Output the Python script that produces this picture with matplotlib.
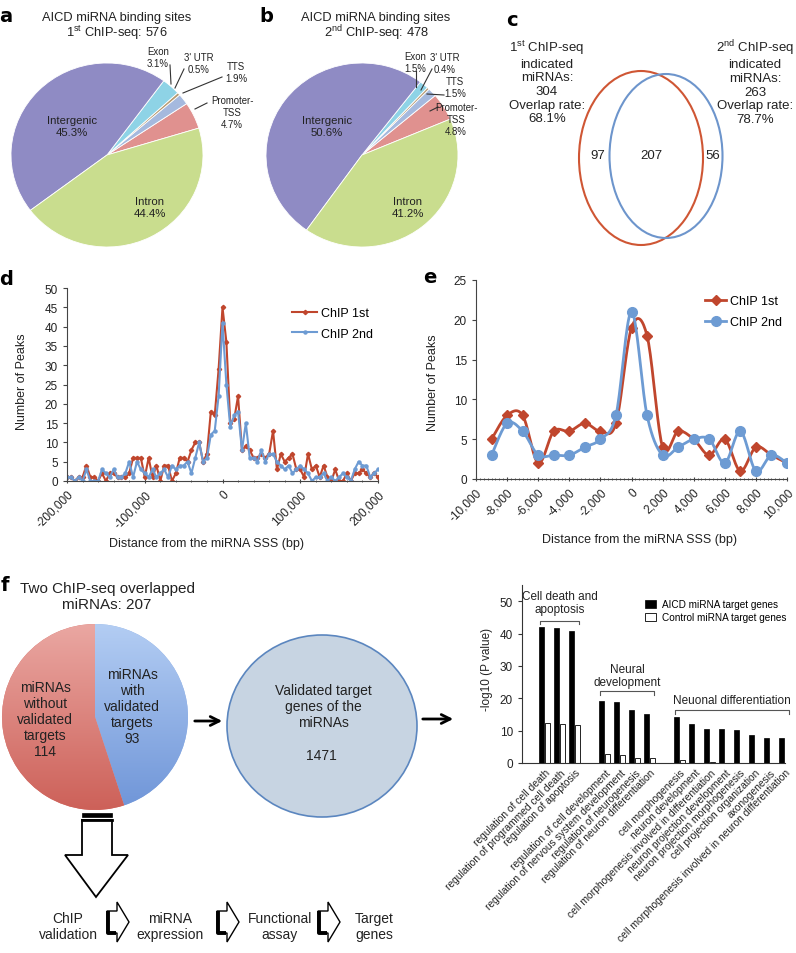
import numpy as np
import matplotlib
matplotlib.use('Agg')
import matplotlib.pyplot as plt
from matplotlib.patches import Ellipse, Polygon, Rectangle
from matplotlib.lines import Line2D
from matplotlib.ticker import MultipleLocator, FuncFormatter
from matplotlib.colors import LinearSegmentedColormap

plt.rcParams['font.family'] = ['Liberation Sans', 'DejaVu Sans']
plt.rcParams['mathtext.fontset'] = 'custom'
plt.rcParams['mathtext.rm'] = 'Liberation Sans'

W, H = 796, 954

# ---------------- data ----------------
site_labels = ['Promoter-TSS', 'TTS', "3' UTR", 'Exon', 'Intergenic', 'Intron']
sites_1st = [4.7, 1.9, 0.5, 3.1, 45.3, 44.4]
sites_2nd = [4.8, 1.5, 0.4, 1.5, 50.6, 41.2]
total_1st = 576
total_2nd = 478

mirna_1st = 304
mirna_2nd = 263
mirna_both = 207

# panel d: peaks around the miRNA SSS, 5 kb bins from -200 kb to 200 kb
wide_x = np.arange(-200000, 200001, 5000)
wide_1st = [1, 1, 0, 1, 1, 4, 1, 1, 0, 2,
            0, 2, 2, 1, 1, 1, 2, 6, 6, 6,
            1, 6, 1, 4, 0, 4, 4, 0, 2, 6,
            6, 5, 8, 10, 10, 5, 7, 18, 17, 29,
            45,
            36, 15, 16, 22, 8, 9, 8, 6, 6, 7,
            6, 7, 13, 3, 7, 5, 6, 7, 3, 3,
            1, 7, 3, 4, 1, 4, 1, 0, 3, 0,
            0, 2, 0, 2, 2, 3, 2, 1, 2, 1]
wide_2nd = [1, 1, 0, 1, 0, 3, 0, 0, 0, 3,
            2, 1, 3, 1, 1, 2, 5, 1, 5, 3,
            2, 1, 3, 1, 2, 3, 1, 4, 3, 4,
            4, 5, 2, 6, 10, 5, 6, 12, 13, 22,
            41,
            25, 14, 17, 18, 8, 15, 6, 6, 5, 8,
            5, 7, 7, 5, 4, 3, 4, 2, 3, 4,
            3, 2, 0, 1, 1, 2, 0, 1, 0, 1,
            2, 1, 0, 3, 5, 4, 4, 1, 2, 3]

# panel e: 1 kb bins
near_x = np.arange(-9000, 10001, 1000)
near_1st = [5, 8, 8, 2, 6, 6, 7, 6, 7, 19, 18, 4, 6, 5, 3, 5, 1, 4, 3, 2]
near_2nd = [3, 7, 6, 3, 3, 3, 4, 5, 8, 21, 8, 3, 4, 5, 5, 2, 6, 1, 3, 2]

# panel f
without_targets = 114
with_targets = 93
n_target_genes = 1471

go_groups = ['Cell death and\napoptosis', 'Neural\ndevelopment', 'Neuonal differentiation']
go_group_sizes = [3, 4, 8]
go_terms = ['regulation of cell death',
            'regulation of programmed cell death',
            'regulation of apoptosis',
            'regulation of cell development',
            'regulation of nervous system development',
            'regulation of neurogenesis',
            'regulation of neuron differentiation',
            'cell morphogenesis',
            'neuron development',
            'cell morphogenesis involved in differentiation',
            'neuron projection development',
            'neuron projection morphogenesis',
            'cell projection organization',
            'axonogenesis',
            'cell morphogenesis involved in neuron differentiation']
go_aicd = [42.0, 41.8, 40.9, 19.3, 19.0, 16.5, 15.0, 14.2, 11.9, 10.6, 10.6, 10.1, 8.6, 7.8, 7.6]
go_control = [12.3, 12.0, 11.8, 2.7, 2.4, 1.6, 1.4, 0.9, 0.1, 0.4, 0, 0, 0, 0, 0]

# ---------------- styles ----------------
site_colors = ['#e0918f', '#a5b9de', '#b79a72', '#8ed3e6', '#8f8bc4', '#c9dd8e']
red = '#c0462d'
blue = '#6d9bd3'
axis_col = '#444444'

fig = plt.figure(figsize=(W / 100, H / 100), dpi=100)


def px_axes(left, top, right, bottom, **kw):
    return fig.add_axes([left / W, 1 - bottom / H, (right - left) / W, (bottom - top) / H], **kw)


# overlay for annotations in pixel coordinates
ov = px_axes(0, 0, W, H, zorder=10)
ov.set_xlim(0, W)
ov.set_ylim(H, 0)
ov.axis('off')
ov.patch.set_alpha(0)


def txt(x, y, s, size=9, **kw):
    kw.setdefault('ha', 'center')
    kw.setdefault('va', 'center')
    ov.text(x, y, s, fontsize=size, color='#222222', **kw)


# panel letters
for lab, x, y in [('a', 6, 17), ('b', 266, 17), ('c', 512, 20), ('d', 6, 280),
                  ('e', 430, 278), ('f', 5, 586)]:
    ov.text(x, y, lab, fontsize=14, fontweight='bold', ha='center', va='center', family='DejaVu Sans')


# ---------------- a / b pies ----------------
def site_pie(cx, cy, values, start):
    ax = px_axes(cx - 96, cy - 92, cx + 96, cy + 92)
    ax.pie(values, colors=site_colors, startangle=start, counterclock=True,
           wedgeprops=dict(edgecolor='white', linewidth=0.6))
    ax.set_aspect('auto')
    ax.set_xlim(-1, 1)
    ax.set_ylim(-1, 1)
    return ax


site_pie(107, 156, sites_1st, 17)
site_pie(362, 156, sites_2nd, 23)

txt(117, 18, 'AICD miRNA binding sites', 9.3)
txt(117, 33, '1$^{\\rm st}$ ChIP-seq: %d' % total_1st, 9.3)
txt(376, 18, 'AICD miRNA binding sites', 9.3)
txt(376, 33, '2$^{\\rm nd}$ ChIP-seq: %d' % total_2nd, 9.3)

pct = lambda v: '%.1f%%' % v
ps = 6.9
pin = 8.2
txt(72, 127, 'Intergenic\n' + pct(sites_1st[4]), pin)
txt(150, 208, 'Intron\n' + pct(sites_1st[5]), pin)
txt(158, 58, 'Exon\n' + pct(sites_1st[3]), ps)
txt(199, 64, "3' UTR\n" + pct(sites_1st[2]), ps)
txt(236, 73, 'TTS\n' + pct(sites_1st[1]), ps)
txt(232, 113, 'Promoter-\nTSS\n' + pct(sites_1st[0]), ps)
for seg in [((170, 66), (171, 85)), ((184, 70), (175, 89)), ((222, 78), (183, 94)),
            ((207, 104), (195, 110))]:
    ov.plot(*zip(*seg), color='#333333', lw=0.8)

txt(327, 127, 'Intergenic\n' + pct(sites_2nd[4]), pin)
txt(408, 208, 'Intron\n' + pct(sites_2nd[5]), pin)
txt(415, 63, 'Exon\n' + pct(sites_2nd[3]), ps)
txt(445, 64, "3' UTR\n" + pct(sites_2nd[2]), ps)
txt(455, 88, 'TTS\n' + pct(sites_2nd[1]), ps)
txt(456, 120, 'Promoter-\nTSS\n' + pct(sites_2nd[0]), ps)
for seg in [((416, 72), (416, 88)), ((432, 70), (421, 91)), ((444, 96), (427, 95)),
            ((438, 108), (430, 112))]:
    ov.plot(*zip(*seg), color='#333333', lw=0.8)

# ---------------- c venn ----------------
ov.add_patch(Ellipse((641, 159), 124, 174, fill=False, edgecolor='#cf5634', lw=1.5))
ov.add_patch(Ellipse((666, 157), 113, 164, fill=False, edgecolor='#6d95cc', lw=1.5))
txt(598, 156, str(mirna_1st - mirna_both), 9.5)
txt(651, 156, str(mirna_both), 9.5)
txt(713, 156, str(mirna_2nd - mirna_both), 9.5)
txt(547, 82, '1$^{\\rm st}$ ChIP-seq\nindicated\nmiRNAs:\n%d\nOverlap rate:\n%.1f%%'
    % (mirna_1st, 100 * mirna_both / mirna_1st), 9.5, linespacing=1.18)
txt(755, 82, '2$^{\\rm nd}$ ChIP-seq\nindicated\nmiRNAs:\n%d\nOverlap rate:\n%.1f%%'
    % (mirna_2nd, 100 * mirna_both / mirna_2nd), 9.5, linespacing=1.18)


# ---------------- d / e line charts ----------------
def style_line_axes(ax):
    for s in ['top', 'right']:
        ax.spines[s].set_visible(False)
    for s in ['left', 'bottom']:
        ax.spines[s].set_color(axis_col)
    ax.tick_params(colors=axis_col, labelcolor='#222222', labelsize=8.5, length=3)
    ax.tick_params(which='minor', colors=axis_col, length=2)
    ax.xaxis.set_major_formatter(FuncFormatter(lambda v, p: '{:,}'.format(int(v))))
    for lab in ax.get_xticklabels():
        lab.set_rotation(45)
        lab.set_ha('right')
        lab.set_rotation_mode('anchor')


axd = px_axes(67, 289, 378, 482)
axd.plot(wide_x, wide_1st, color=red, lw=1.5, marker='D', ms=2.2, label='ChIP 1st')
axd.plot(wide_x, wide_2nd, color=blue, lw=1.5, marker='o', ms=2.2, label='ChIP 2nd')
axd.set_xlim(-200000, 200000)
axd.set_ylim(0, 50)
axd.set_xticks(np.arange(-200000, 200001, 100000))
axd.xaxis.set_minor_locator(MultipleLocator(20000))
axd.yaxis.set_major_locator(MultipleLocator(5))
style_line_axes(axd)
axd.tick_params(axis='x', which='both', direction='inout')
axd.set_ylabel('Number of Peaks', fontsize=9, color='#222222')
axd.yaxis.set_label_coords(-0.125, 0.52)
axd.set_xlabel('Distance from the miRNA SSS (bp)', fontsize=9, color='#222222')
axd.xaxis.set_label_coords(0.45, -0.29)
axd.legend(loc='upper right', bbox_to_anchor=(1.02, 0.96), frameon=False, fontsize=9,
           handlelength=2.0, handletextpad=0.3, labelspacing=0.7)


def smooth_curve(xs, ys, steps=20):
    xs = np.asarray(xs, float)
    ys = np.asarray(ys, float)
    n = len(xs)
    t = np.linspace(0, 1, steps)[:, None]
    out = []
    for i in range(n - 1):
        i0, i3 = max(i - 1, 0), min(i + 2, n - 1)
        p0 = np.array([xs[i], ys[i]])
        p3 = np.array([xs[i + 1], ys[i + 1]])
        p1 = p0 + (np.array([xs[i + 1], ys[i + 1]]) - np.array([xs[i0], ys[i0]])) / 6
        p2 = p3 - (np.array([xs[i3], ys[i3]]) - np.array([xs[i], ys[i]])) / 6
        seg = (1 - t) ** 3 * p0 + 3 * (1 - t) ** 2 * t * p1 + 3 * (1 - t) * t ** 2 * p2 + t ** 3 * p3
        out.append(seg)
    out = np.vstack(out)
    return out[:, 0], out[:, 1]


axe = px_axes(476, 281, 787, 480)
sx, sy = smooth_curve(near_x, near_1st)
axe.plot(sx, sy, color=red, lw=2)
axe.plot(near_x, near_1st, ls='none', marker='D', ms=5, color=red)
sx, sy = smooth_curve(near_x, near_2nd)
axe.plot(sx, sy, color=blue, lw=2)
axe.plot(near_x, near_2nd, ls='none', marker='o', ms=7, color=blue)
axe.set_xlim(-10000, 10000)
axe.set_ylim(0, 25)
axe.set_xticks(np.arange(-10000, 10001, 2000))
axe.xaxis.set_minor_locator(MultipleLocator(250))
axe.yaxis.set_major_locator(MultipleLocator(5))
style_line_axes(axe)
axe.tick_params(axis='x', which='both', direction='inout')
axe.set_ylabel('Number of Peaks', fontsize=9, color='#222222')
axe.yaxis.set_label_coords(-0.119, 0.49)
axe.set_xlabel('Distance from the miRNA SSS (bp)', fontsize=9, color='#222222')
axe.xaxis.set_label_coords(0.527, -0.27)
handles = [Line2D([], [], color=red, lw=2, marker='D', ms=5),
           Line2D([], [], color=blue, lw=2, marker='o', ms=7)]
axe.legend(handles, ['ChIP 1st', 'ChIP 2nd'], loc='upper right', bbox_to_anchor=(1.02, 0.98),
           frameon=False, fontsize=9, handlelength=1.7, handletextpad=0.3, labelspacing=0.7)

# ---------------- f diagram ----------------
txt(107, 597, 'Two ChIP-seq overlapped\nmiRNAs: %d' % (with_targets + without_targets), 11,
    linespacing=1.12)

axf = px_axes(2, 625, 188, 811)
wedges, _ = axf.pie([with_targets, without_targets], colors=['#8fb0e6', '#d8776f'],
                    startangle=90, counterclock=False)
axf.set_aspect('auto')
axf.set_xlim(-1, 1)
axf.set_ylim(-1, 1)
grad = np.linspace(0, 1, 200)[:, None]
for w, (c_lo, c_hi) in zip(wedges, [('#6f95d8', '#b3cdf3'), ('#cd6159', '#eaa7a2')]):
    im = axf.imshow(grad, extent=(-1, 1, -1, 1), origin='lower', aspect='auto',
                    cmap=LinearSegmentedColormap.from_list('g', [c_lo, c_hi]), zorder=2)
    im.set_clip_path(w)

txt(45, 720, 'miRNAs\nwithout\nvalidated\ntargets\n%d' % without_targets, 10, linespacing=1.2)
txt(132, 707, 'miRNAs\nwith\nvalidated\ntargets\n%d' % with_targets, 10, linespacing=1.2)

ov.add_patch(Ellipse((322, 727), 190, 182, facecolor='#c7d4e2', edgecolor='#5b86bf', lw=1.2))
txt(323, 707, 'Validated target\ngenes of the\nmiRNAs', 10, linespacing=1.2)
txt(321, 756, str(n_target_genes), 10)

for x0, x1, y in [(192, 225, 722), (420, 456, 720)]:
    ov.annotate('', xy=(x1, y), xytext=(x0, y),
                arrowprops=dict(arrowstyle='->', lw=2, color='black', mutation_scale=16))

# big hollow down arrow
ov.add_patch(Rectangle((82, 814), 30, 4, facecolor='black', edgecolor='black', lw=0.5))
ov.add_patch(Polygon([(82, 821), (112, 821), (112, 856), (128, 856), (96, 898), (65, 856), (82, 856)],
                     closed=True, facecolor='white', edgecolor='black', lw=1.3))
ov.plot([82, 112], [821, 821], color='black', lw=2)

# small step arrows
for x0 in [107, 217, 318]:
    ov.add_patch(Polygon([(x0, 912), (x0 + 10, 912), (x0 + 10, 903), (x0 + 22, 923),
                          (x0 + 10, 943), (x0 + 10, 934), (x0, 934)],
                         closed=True, facecolor='white', edgecolor='black', lw=1.0))
    ov.plot([x0 + 1, x0 + 1, x0 + 9], [912, 934, 934], color='black', lw=2.8, solid_capstyle='butt')

for x, s in [(68, 'ChIP\nvalidation'), (170, 'miRNA\nexpression'),
             (280, 'Functional\nassay'), (374, 'Target\ngenes')]:
    txt(x, 927, s, 10, linespacing=1.15)

# ---------------- f bar chart ----------------
pos = []
p = 0
for n in go_group_sizes:
    pos.extend(range(p, p + n))
    p += n + 1
pos = np.array(pos, float)

axb = px_axes(522, 586, 785, 764)
bw = 0.34
axb.bar(pos, go_aicd, width=bw, color='black', edgecolor='black', lw=0.5,
        label='AICD miRNA target genes')
axb.bar(pos + 0.38, go_control, width=bw, color='white', edgecolor='black', lw=0.6,
        label='Control miRNA target genes')
axb.set_xlim(-1.31, 16.22)
axb.set_ylim(0, 55)
axb.yaxis.set_major_locator(MultipleLocator(10))
for s in ['top', 'right']:
    axb.spines[s].set_visible(False)
for s in ['left', 'bottom']:
    axb.spines[s].set_color('#333333')
axb.tick_params(axis='y', labelsize=8.5, length=3, colors='#333333', labelcolor='#222222')
axb.set_xticks(pos + 0.22)
axb.set_xticklabels(go_terms, rotation=45, ha='right', rotation_mode='anchor', fontsize=7.4,
                    color='#222222')
axb.tick_params(axis='x', length=0, pad=3)
axb.set_ylabel('-log10 (P value)', fontsize=8.5, color='#222222')
axb.yaxis.set_label_coords(-0.11, 0.53)
axb.legend(loc='upper right', bbox_to_anchor=(1.04, 0.97), frameon=False, fontsize=7.2,
           handlelength=1.1, handleheight=0.9, handletextpad=0.6, labelspacing=0.3)

# group brackets
start = 0
for (label, n), by, ty in zip(zip(go_groups, go_group_sizes), [44, 22.3, 16.3], [49.5, 27, 19.6]):
    xa = pos[start] - 0.12
    xb = pos[start + n - 1] + 0.5
    axb.plot([xa, xa, xb, xb], [by - 1.2, by, by, by - 1.2], color='#555555', lw=0.8, clip_on=False)
    axb.text((xa + xb) / 2, ty, label, ha='center', va='center', fontsize=8.5, color='#222222',
             linespacing=1.15)
    start += n

fig.savefig('out.png', dpi=100)
